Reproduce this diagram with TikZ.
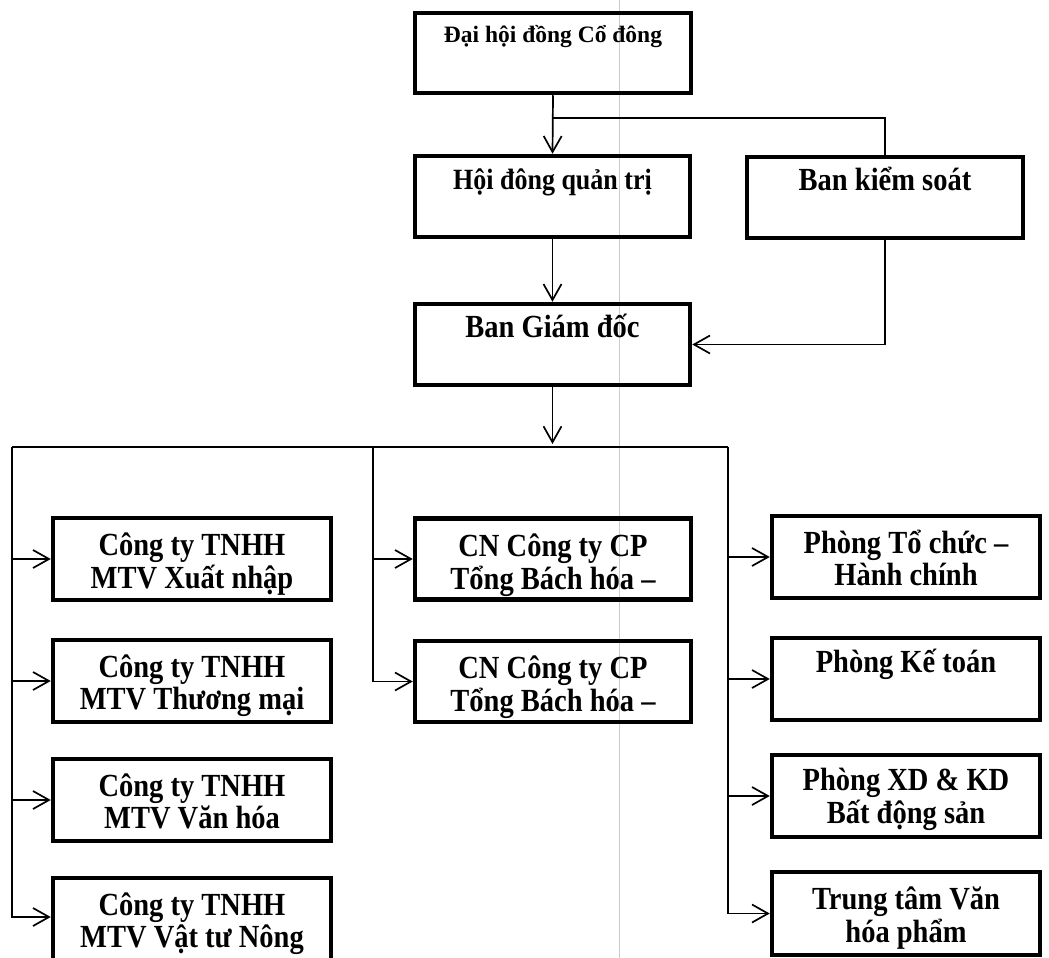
\documentclass[tikz,border=0pt]{standalone}
\usepackage{fontspec}
\usepackage{graphicx}
\setmainfont{Liberation Serif}
\usetikzlibrary{arrows.meta}
\newcommand{\vtxt}[1]{\scalebox{1}[1.13]{\begin{tabular}[t]{@{}c@{}}#1\end{tabular}}}
\begin{document}
\begin{tikzpicture}[x=1pt,y=-1pt,
  box/.style={draw, line width=4.5pt, rectangle, inner sep=0pt},
  lbox/.style={box, minimum width=278pt, minimum height=82pt},
  cbox/.style={box, minimum width=276pt, minimum height=81pt},
  rbox/.style={box, minimum width=268pt, minimum height=82pt},
  txt/.style={font=\bfseries\fontsize{28.5}{27.5}\selectfont, anchor=base, inner sep=0pt},
  conn/.style={line width=1.7pt},
  arr/.style={conn, -{Straight Barb[length=16pt,width=18pt,line width=1.7pt]}}
]
\useasboundingbox (0,0) rectangle (1049,958);
\draw[gray!40, line width=0.8pt] (619,0) -- (619,958);

% top levels
\node[box, minimum width=276pt, minimum height=80pt] (dh) at (553,53) {};
\node[txt, font=\bfseries\fontsize{23.5}{26}\selectfont] (tdh) at ([yshift=-32pt]dh.north) {Đại hội đồng Cổ đông};

\node[box, minimum width=275pt, minimum height=81pt] (hdqt) at (552.5,196.5) {};
\node[txt, font=\bfseries\fontsize{26}{28}\selectfont] (thdqt) at ([yshift=-36pt]hdqt.north) {\vtxt{Hội đông quản trị}};

\node[box, minimum width=276pt, minimum height=81pt] (bks) at (885,197.5) {};
\node[txt] (tbks) at ([yshift=-36pt]bks.north) {\vtxt{Ban kiểm soát}};

\node[box, minimum width=275pt, minimum height=81pt] (bgd) at (552.5,344.5) {};
\node[txt] (tbgd) at ([yshift=-36pt]bgd.north) {\vtxt{Ban Giám đốc}};

% left column
\node[lbox] (l1) at (192,559) {};
\node[txt] (tl1) at ([yshift=-40pt]l1.north) {\vtxt{Công ty TNHH\\MTV Xuất nhập}};
\node[lbox] (l2) at (192,681) {};
\node[txt] (tl2) at ([yshift=-40pt]l2.north) {\vtxt{Công ty TNHH\\MTV Thương mại}};
\node[lbox] (l3) at (192,800) {};
\node[txt] (tl3) at ([yshift=-40pt]l3.north) {\vtxt{Công ty TNHH\\MTV Văn hóa}};
\node[lbox, minimum height=84pt] (l4) at (192,920) {};
\node[txt] (tl4) at ([yshift=-40pt]l4.north) {\vtxt{Công ty TNHH\\MTV Vật tư Nông}};

% centre column
\node[cbox] (c1) at (553,559) {};
\node[txt] (tc1) at ([yshift=-40pt]c1.north) {\vtxt{CN Công ty CP\\Tổng Bách hóa –}};
\node[cbox] (c2) at (553,681.5) {};
\node[txt] (tc2) at ([yshift=-40pt]c2.north) {\vtxt{CN Công ty CP\\Tổng Bách hóa –}};

% right column
\node[rbox] (r1) at (906,557) {};
\node[txt] (tr1) at ([yshift=-40pt]r1.north) {\vtxt{Phòng Tổ chức –\\Hành chính}};
\node[rbox] (r2) at (906,679) {};
\node[txt] (tr2) at ([yshift=-37pt]r2.north) {\vtxt{Phòng Kế toán}};
\node[rbox] (r3) at (906,796) {};
\node[txt] (tr3) at ([yshift=-38pt]r3.north) {\vtxt{Phòng XD \& KD\\Bất động sản}};
\node[rbox, minimum height=83pt] (r4) at (906,913.5) {};
\node[txt] (tr4) at ([yshift=-40pt]r4.north) {\vtxt{Trung tâm Văn\\hóa phẩm}};

% connectors
\coordinate (j1) at (553,118);
\draw[arr] (dh.south) -- (hdqt.north);
\draw[conn] (j1) -| (bks.north);
\draw[arr] (hdqt.south) -- (bgd.north);
\draw[arr] (bks.south) |- (bgd.east);

\coordinate (busL) at (12,447);
\coordinate (busM) at (373,447);
\coordinate (busR) at (728,447);
\draw[arr] (bgd.south) -- ([yshift=3pt]bgd.south |- busL);
\draw[conn] (busL) -- (busR);

\draw[arr] (busL) |- (l1.west);
\draw[arr] (busL) |- (l2.west);
\draw[arr] (busL) |- (l3.west);
\draw[arr] (busL) |- ([yshift=3pt]l4.west);

\draw[arr] (busM) |- (c1.west);
\draw[arr] (busM) |- (c2.west);

\draw[arr] (busR) |- (r1.west);
\draw[arr] (busR) |- (r2.west);
\draw[arr] (busR) |- (r3.west);
\draw[arr] (busR) |- (r4.west);
\end{tikzpicture}
\end{document}
